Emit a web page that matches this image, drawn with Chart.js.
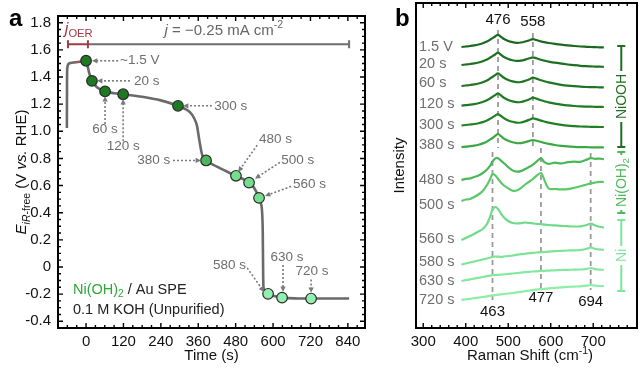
<!DOCTYPE html>
<html><head><meta charset="utf-8">
<script src="https://cdn.jsdelivr.net/npm/chart.js@4"></script>
<style>
html,body{margin:0;padding:0;background:#fff;}
#wrap{position:relative;width:640px;height:369px;overflow:hidden;background:#fff;}
#ca{position:absolute;left:0;top:0;width:380px;height:369px;}
#cb{position:absolute;left:380px;top:0;width:260px;height:369px;}
</style></head><body>
<div id="wrap"><canvas id="ca" width="380" height="369"></canvas><canvas id="cb" width="260" height="369"></canvas></div>
<script>
const FONT = '"Liberation Sans", Arial, Helvetica, sans-serif';

// ---------- Panel a data ----------
const xTickValues = [0, 120, 240, 360, 480, 600, 720, 840];
const yTickValues = [-0.4, -0.2, 0, 0.2, 0.4, 0.6, 0.8, 1.0, 1.2, 1.4, 1.6, 1.8];
const curveTime = [-61.5, -61, -60, -57, -50, -35, -15, 0, 5, 10, 19, 35, 61, 90, 119, 180, 240, 295, 315, 334, 346, 356, 361, 366, 371, 376, 385, 420, 455, 481, 500, 523, 540, 555, 562, 565, 567, 568, 569, 573, 584, 600, 629, 680, 722, 844];
const curvePotential = [1.025, 1.40, 1.47, 1.495, 1.503, 1.508, 1.514, 1.52, 1.48, 1.43, 1.372, 1.325, 1.294, 1.281, 1.273, 1.255, 1.228, 1.188, 1.168, 1.14, 1.10, 1.04, 0.97, 0.90, 0.84, 0.806, 0.785, 0.74, 0.70, 0.672, 0.652, 0.622, 0.58, 0.509, 0.46, 0.40, 0.25, 0.0, -0.14, -0.18, -0.198, -0.213, -0.226, -0.232, -0.233, -0.233];
const markerTime = [0, 19, 61, 119, 295, 385, 481, 523, 555, 584, 629, 722];
const markerPotential = [1.52, 1.372, 1.294, 1.273, 1.188, 0.785, 0.672, 0.622, 0.509, -0.198, -0.226, -0.233];
const markerNames = ['~1.5 V', '20 s', '60 s', '120 s', '300 s', '380 s', '480 s', '500 s', '560 s', '580 s', '630 s', '720 s'];

// ---------- Panel b data ----------
const ramanTicks = [300, 400, 500, 600, 700];
const ramanShift = [390, 400, 410, 420, 430, 440, 450, 458, 463, 470, 476, 483, 490, 500, 510, 520, 530, 540, 550, 558, 566, 577, 585, 595, 610, 625, 640, 655, 670, 685, 694, 705, 715, 725];
const spec1p5V = [281, 281.5, 282, 282.6, 283.5, 284.8, 286.5, 288.5, 289.8, 291.8, 293.2, 291.2, 289, 287, 285.8, 285.2, 285.5, 286.5, 287.8, 288.8, 288, 286.6, 285.8, 285, 284.1, 283.3, 282.6, 282, 281.5, 281.2, 281, 280.8, 280.7, 280.6];
const spec20s = [263, 263.5, 264, 264.6, 265.5, 266.8, 268.5, 270.5, 271.8, 273.8, 275.3, 273.2, 271, 269, 267.8, 267.1, 267.4, 268.4, 269.7, 270.7, 269.8, 268.3, 267.4, 266.4, 265.3, 264.3, 263.5, 262.8, 262.2, 261.8, 261.6, 261.4, 261.3, 261.2];
const spec60s = [242, 242.5, 243, 243.6, 244.5, 245.8, 247.5, 249.7, 251, 253.2, 254.7, 252.5, 250.2, 248, 246.6, 245.8, 246, 247.2, 248.8, 250.3, 249.4, 247.8, 246.8, 245.6, 244.3, 243.2, 242.4, 241.8, 241.3, 241, 240.9, 240.8, 240.7, 240.6];
const spec120s = [222.3, 222.8, 223.3, 223.9, 224.8, 226, 227.7, 229.8, 231.1, 233.2, 234.7, 232.5, 230.2, 228, 226.6, 225.8, 226, 227.2, 228.8, 230.3, 229.4, 227.8, 226.8, 225.6, 224.4, 223.4, 222.6, 222, 221.6, 221.4, 221.3, 221.2, 221.1, 221];
const spec300s = [202.5, 203, 203.5, 204, 204.8, 205.9, 207.4, 209.4, 210.6, 212.6, 214, 212, 209.8, 207.6, 206.2, 205.3, 205.5, 206.7, 208.3, 209.7, 208.9, 207.4, 206.5, 205.4, 204.2, 203.2, 202.4, 201.9, 201.5, 201.3, 201.2, 201.1, 201, 201];
const spec380s = [180.8, 181.3, 181.8, 182.4, 183.3, 184.6, 186.4, 188.7, 190, 192.4, 194, 191.8, 189.4, 187.2, 185.7, 184.8, 184.9, 185.9, 187.1, 188, 187.3, 186, 185.1, 184.1, 183, 182.2, 181.6, 181.2, 180.9, 180.8, 180.7, 180.7, 180.6, 180.6];
const spec480s = [148, 149.2, 149.5, 151, 152.4, 155, 158.5, 162.6, 166.5, 169.6, 169.8, 167.4, 164.8, 160.9, 157.6, 156.4, 156.9, 159.1, 161.2, 163.4, 166.1, 169.9, 165.8, 164.2, 165.3, 164.6, 165.8, 166.4, 166.1, 168.4, 169.9, 169.2, 169.4, 168.8];
const spec500s = [127, 128.5, 129, 131, 133.5, 137, 143, 149.5, 153.8, 152.5, 149, 145.5, 142.5, 139.6, 137.3, 137.5, 140, 143.5, 146.5, 149, 152, 155, 148, 139.5, 139, 138.6, 138.8, 140.2, 141.8, 143.5, 144.6, 145.5, 146.2, 146];
const spec560s = [88, 90, 92, 94, 96.5, 99, 104, 112, 118.5, 121, 119, 114.5, 110.5, 107, 105, 104.5, 104.8, 105.5, 105, 104.6, 104.2, 103.8, 103.4, 103, 102.6, 102.2, 101.8, 101.5, 101.7, 103, 104.4, 102.5, 101.2, 100.5];
const spec580s = [63.5, 64.5, 65.5, 66.5, 67.5, 68.5, 69.5, 70.5, 71.2, 71.5, 71.3, 71.2, 71.5, 72, 72.5, 73.2, 73.8, 74.3, 74.8, 75.2, 75.5, 75.8, 76, 76.3, 76.8, 77.2, 77.5, 77.6, 78, 79.2, 80.5, 79, 78.5, 78.2];
const spec630s = [47, 47.8, 48.6, 49.4, 50.2, 51, 51.8, 52.4, 52.8, 53, 53.1, 53.3, 53.6, 54, 54.5, 55, 55.4, 55.8, 56.2, 56.5, 56.7, 57, 57.2, 57.4, 57.7, 58, 58.2, 58.3, 58.5, 59.2, 60, 58.8, 58.4, 58.2];
const spec720s = [28, 28.6, 29.2, 29.8, 30.4, 31, 31.6, 32.2, 32.6, 33, 33.3, 33.6, 34, 34.5, 35, 35.6, 36.2, 36.8, 37.4, 37.9, 38.3, 38.8, 39.2, 39.6, 40.2, 40.7, 41.1, 41.4, 41.7, 42.3, 43, 42.4, 42, 41.8];
const spectraNames = ['1.5 V', '20 s', '60 s', '120 s', '300 s', '380 s', '480 s', '500 s', '560 s', '580 s', '630 s', '720 s'];
const spectra = [spec1p5V, spec20s, spec60s, spec120s, spec300s, spec380s, spec480s, spec500s, spec560s, spec580s, spec630s, spec720s];
const peakShifts = [476, 558, 463, 577, 694];
const peakLabels = ['476', '558', '463', '477', '694'];

// ---------- styles / layout ----------
const markerColors = ['#1d7a22','#1d7a22','#1d7a22','#1d7a22','#1d7a22','#4cb75a','#74dd8e','#74dd8e','#74dd8e','#92efb2','#92efb2','#92efb2'];
const traceColors = ['#1a6a1e','#1c7020','#1e7522','#1f7a24','#218026','#3aa843','#4ab856','#5bc968','#6fdb88','#7ce497','#84e99f','#8ceea7'];
const annotA = [
  {i:0, tx:109, ty:1.52, align:'left', fx:103, fy:1.52, ex:19, ey:1.52},
  {i:1, tx:154, ty:1.372, align:'left', fx:141, fy:1.372, ex:35, ey:1.372},
  {i:2, tx:61, ty:1.018, align:'center', fx:61, fy:1.054, ex:61, ey:1.259},
  {i:3, tx:119, ty:0.891, align:'center', fx:119, fy:0.926, ex:119, ey:1.238},
  {i:4, tx:411, ty:1.188, align:'left', fx:404, fy:1.188, ex:311, ey:1.188},
  {i:5, tx:270, ty:0.785, align:'right', fx:279, fy:0.785, ex:369, ey:0.785},
  {i:6, tx:555, ty:0.941, align:'left', fx:549, fy:0.898, ex:488, ey:0.700},
  {i:7, tx:626, ty:0.785, align:'left', fx:622, fy:0.771, ex:542, ey:0.651},
  {i:8, tx:664, ty:0.608, align:'left', fx:658, fy:0.594, ex:574, ey:0.523},
  {i:9, tx:513, ty:0.014, align:'right', fx:517, fy:-0.007, ex:571, ey:-0.184},
  {i:10, tx:645, ty:0.071, align:'center', fx:632, fy:0.014, ex:632, ey:-0.184},
  {i:11, tx:725, ty:-0.035, align:'center', fx:722, fy:-0.092, ex:722, ey:-0.191}
];
const traceLabelV = [281, 264, 245, 224, 203, 183, 148, 123, 89, 66, 47, 28];
const peakLineV = [[298,180],[295,180],[176,28],[180,40],[175,38]];
const peakLabelV = [308, 306, 16, 30, 26];
const bracketsB = [
  {name:[{t:'NiOOH'}], top:282, bot:181, color:'#1f6f22'},
  {name:[{t:'Ni(OH)'},{t:'2',sub:true}], top:176, bot:115, color:'#4cba59'},
  {name:[{t:'Ni'}], top:108, bot:37, color:'#7ee69c'}
];

// ---------- helpers ----------
function fontStr(size, italic, bold){ return (italic?'italic ':'')+(bold?'bold ':'')+size+'px '+FONT; }
function richWidth(ctx, parts, size){ let w=0; for(const p of parts){ const s=(p.sub||p.sup)?size*0.7:size; ctx.font=fontStr(s,p.italic,p.bold); w+=ctx.measureText(p.t).width; } return w; }
function drawRich(ctx, parts, x, y, size, align, color, rot){
  ctx.save(); ctx.translate(x,y); if(rot) ctx.rotate(rot);
  const w=richWidth(ctx,parts,size);
  let cx = align==='center' ? -w/2 : (align==='right' ? -w : 0);
  ctx.textBaseline='middle'; ctx.textAlign='left';
  for(const p of parts){
    const s=(p.sub||p.sup)?size*0.7:size; ctx.font=fontStr(s,p.italic,p.bold);
    ctx.fillStyle=p.color||color;
    const dy=p.sub?size*0.32:(p.sup?-size*0.35:0);
    ctx.fillText(p.t,cx,dy); cx+=ctx.measureText(p.t).width;
  }
  ctx.restore(); return w;
}
function arrow(ctx,x1,y1,x2,y2,color){
  ctx.save(); ctx.strokeStyle=color; ctx.fillStyle=color; ctx.lineWidth=1.6; ctx.setLineDash([2,2]);
  const ang=Math.atan2(y2-y1,x2-x1), hl=6;
  ctx.beginPath(); ctx.moveTo(x1,y1); ctx.lineTo(x2-Math.cos(ang)*hl*0.7, y2-Math.sin(ang)*hl*0.7); ctx.stroke();
  ctx.setLineDash([]);
  ctx.beginPath(); ctx.moveTo(x2,y2);
  ctx.lineTo(x2-hl*Math.cos(ang-0.45), y2-hl*Math.sin(ang-0.45));
  ctx.lineTo(x2-hl*Math.cos(ang+0.45), y2-hl*Math.sin(ang+0.45));
  ctx.closePath(); ctx.fill(); ctx.restore();
}
function capLine(ctx,x1,x2,y,color,caps){
  ctx.save(); ctx.strokeStyle=color; ctx.lineWidth=2;
  ctx.beginPath(); ctx.moveTo(x1,y); ctx.lineTo(x2,y);
  for(const c of caps){ ctx.moveTo(c,y-4); ctx.lineTo(c,y+4); }
  ctx.stroke(); ctx.restore();
}

// ---------- panel a plugin ----------
const panelA = {
  id:'panelA',
  afterDatasetsDraw(chart){
    const ctx=chart.ctx, xs=chart.scales.x, ys=chart.scales.y, a=chart.chartArea;
    const X=v=>xs.getPixelForValue(v), Y=v=>ys.getPixelForValue(v);
    // annotations
    for(const an of annotA){
      arrow(ctx,X(an.fx),Y(an.fy),X(an.ex),Y(an.ey),'#7a7a7a');
      drawRich(ctx,[{t:markerNames[an.i]}],X(an.tx),Y(an.ty),13.5,an.align,'#6e6e6e');
    }
    // top current brackets
    const yb=Y(1.641);
    capLine(ctx,X(6),X(844),yb,'#6e6e6e',[X(844)]);
    capLine(ctx,X(-58),X(6),yb,'#a23a46',[X(-58),X(6)]);
    drawRich(ctx,[{t:'j',italic:true},{t:'OER',sub:true}],X(-68),Y(1.752),16,'left','#a23a46');
    drawRich(ctx,[{t:'j',italic:true},{t:' = \u22120.25 mA cm'},{t:'-2',sup:true}],X(252),Y(1.742),15,'left','#666');
  },
  afterDraw(chart){
    const ctx=chart.ctx, xs=chart.scales.x, ys=chart.scales.y, a=chart.chartArea;
    ctx.save(); ctx.strokeStyle='#000'; ctx.lineWidth=1.4;
    ctx.beginPath();
    for(let k=-3;k<=30;k++){ const v=k*30; const p=xs.getPixelForValue(v); if(p<a.left+2||p>a.right-2) continue; const L=(v%120===0)?5:3;
      ctx.moveTo(p,a.bottom); ctx.lineTo(p,a.bottom-L); ctx.moveTo(p,a.top); ctx.lineTo(p,a.top+L); }
    for(let k=-9;k<=37;k++){ const v=k*0.05; const p=ys.getPixelForValue(v); if(p<a.top+2||p>a.bottom-2) continue; const L=(k%4===0)?5:3;
      ctx.moveTo(a.left,p); ctx.lineTo(a.left+L,p); ctx.moveTo(a.right,p); ctx.lineTo(a.right-L,p); }
    ctx.stroke();
    ctx.lineWidth=2; ctx.strokeRect(a.left,a.top,a.right-a.left,a.bottom-a.top);
    ctx.restore();
    drawRich(ctx,[{t:'a',bold:true}],9,19,24,'left','#000');
    drawRich(ctx,[{t:'Time (s)'}],(a.left+a.right)/2,356,15,'center','#111');
    drawRich(ctx,[{t:'E',italic:true},{t:'iR',italic:true,sub:true},{t:'-free',sub:true},{t:' (V '},{t:'vs.',italic:true},{t:' RHE)'}],22,(a.top+a.bottom)/2,15,'center','#111',-Math.PI/2);
    drawRich(ctx,[{t:'Ni(OH)',color:'#2fa83a'},{t:'2',sub:true,color:'#2fa83a'},{t:' / Au SPE'}],73,290,14.5,'left','#222');
    drawRich(ctx,[{t:'0.1 M KOH (Unpurified)'}],73,310,14.5,'left','#222');
  }
};

// ---------- panel b plugin ----------
const panelB = {
  id:'panelB',
  beforeDatasetsDraw(chart){
    const ctx=chart.ctx, xs=chart.scales.x, ys=chart.scales.y;
    ctx.save(); ctx.strokeStyle='#9a9a9a'; ctx.lineWidth=1.8; ctx.setLineDash([5,4]);
    peakShifts.forEach((s,i)=>{ const p=xs.getPixelForValue(s); ctx.beginPath(); ctx.moveTo(p,ys.getPixelForValue(peakLineV[i][0])); ctx.lineTo(p,ys.getPixelForValue(peakLineV[i][1])); ctx.stroke(); });
    ctx.restore();
  },
  afterDraw(chart){
    const ctx=chart.ctx, xs=chart.scales.x, ys=chart.scales.y, a=chart.chartArea;
    ctx.save(); ctx.strokeStyle='#000'; ctx.lineWidth=1.4; ctx.beginPath();
    for(let v=280; v<=800; v+=20){ const p=xs.getPixelForValue(v); if(p<a.left+2||p>a.right-2) continue; const L=(v%100===0)?5:3;
      ctx.moveTo(p,a.bottom); ctx.lineTo(p,a.bottom-L); ctx.moveTo(p,a.top); ctx.lineTo(p,a.top+L); }
    ctx.stroke(); ctx.lineWidth=2; ctx.strokeRect(a.left,a.top,a.right-a.left,a.bottom-a.top); ctx.restore();
    // labels of traces
    spectraNames.forEach((n,i)=>drawRich(ctx,[{t:n}],a.left+3,ys.getPixelForValue(traceLabelV[i]),14.5,'left','#6e6e6e'));
    // peak labels
    peakLabels.forEach((n,i)=>drawRich(ctx,[{t:n}],xs.getPixelForValue(peakShifts[i]),ys.getPixelForValue(peakLabelV[i]),15,'center','#111'));
    // brackets
    const bx=xs.getPixelForValue(766);
    for(const b of bracketsB){
      const y1=ys.getPixelForValue(b.top), y2=ys.getPixelForValue(b.bot), ym=(y1+y2)/2;
      const w=richWidth(ctx,b.name,14);
      ctx.save(); ctx.strokeStyle=b.color; ctx.lineWidth=2; ctx.beginPath();
      ctx.moveTo(bx-4,y1); ctx.lineTo(bx+4,y1); ctx.moveTo(bx-4,y2); ctx.lineTo(bx+4,y2);
      ctx.moveTo(bx,y1); ctx.lineTo(bx,ym-w/2-3); ctx.moveTo(bx,ym+w/2+3); ctx.lineTo(bx,y2);
      ctx.stroke(); ctx.restore();
      drawRich(ctx,b.name,bx+1,ym,14,'center',b.color,-Math.PI/2);
    }
    drawRich(ctx,[{t:'b',bold:true}],15,19,24,'left','#000');
    drawRich(ctx,[{t:'Intensity'}],20,(a.top+a.bottom)/2,15,'center','#111',-Math.PI/2);
    drawRich(ctx,[{t:'Raman Shift (cm'},{t:'-1',sup:true},{t:')'}],150,356,15,'center','#111');
  }
};

Chart.defaults.font.family = FONT;

new Chart(document.getElementById('ca'), {
  type:'line',
  data:{datasets:[
    {label:'markers', data:markerTime.map((t,i)=>({x:t,y:markerPotential[i]})), showLine:false, pointRadius:5.3, pointBackgroundColor:markerColors, pointBorderColor:'#2b2b2b', pointBorderWidth:1.2, order:0},
    {label:'E', data:curveTime.map((t,i)=>({x:t,y:curvePotential[i]})), borderColor:'#6a6a6a', borderWidth:2.6, pointRadius:0, cubicInterpolationMode:'monotone', fill:false, order:1,
      segment:{borderColor:c=>(c.p0.parsed.x>=-40 && c.p1.parsed.x<=0)?'#a0525c':undefined}}
  ]},
  options:{
    responsive:false, animation:false, devicePixelRatio:1,
    layout:{padding:{left:0,right:15,top:3,bottom:0}},
    plugins:{legend:{display:false}, tooltip:{enabled:false}},
    scales:{
      x:{type:'linear', min:-90, max:895,
        afterFit(s){s.height=41;}, afterBuildTicks(s){s.ticks=xTickValues.map(v=>({value:v}));},
        grid:{display:false, drawTicks:false}, border:{display:false},
        ticks:{padding:5, color:'#111', font:{family:FONT,size:15}, maxRotation:0, autoSkip:false, callback:v=>String(v)}},
      y:{type:'linear', min:-0.45, max:1.85,
        afterFit(s){s.width=58;}, afterBuildTicks(s){s.ticks=yTickValues.map(v=>({value:v}));},
        grid:{display:false, drawTicks:false}, border:{display:false},
        ticks:{padding:7, color:'#111', font:{family:FONT,size:15}, autoSkip:false, callback:v=>Math.abs(v)<1e-9?'0':v.toFixed(1)}}
    }
  },
  plugins:[panelA]
});

new Chart(document.getElementById('cb'), {
  type:'line',
  data:{datasets:spectra.map((arr,i)=>({label:spectraNames[i], data:ramanShift.map((r,j)=>({x:r,y:arr[j]})), borderColor:traceColors[i], borderWidth:2.2, pointRadius:0, tension:0.3, fill:false}))},
  options:{
    responsive:false, animation:false, devicePixelRatio:1,
    layout:{padding:{left:36,right:3,top:3,bottom:0}},
    plugins:{legend:{display:false}, tooltip:{enabled:false}},
    scales:{
      x:{type:'linear', min:283, max:803,
        afterFit(s){s.height=41;}, afterBuildTicks(s){s.ticks=ramanTicks.map(v=>({value:v}));},
        grid:{display:false, drawTicks:false}, border:{display:false},
        ticks:{padding:5, color:'#111', font:{family:FONT,size:15}, maxRotation:0, autoSkip:false, callback:v=>String(v)}},
      y:{type:'linear', display:false, min:0, max:325}
    }
  },
  plugins:[panelB]
});
</script></body></html>
